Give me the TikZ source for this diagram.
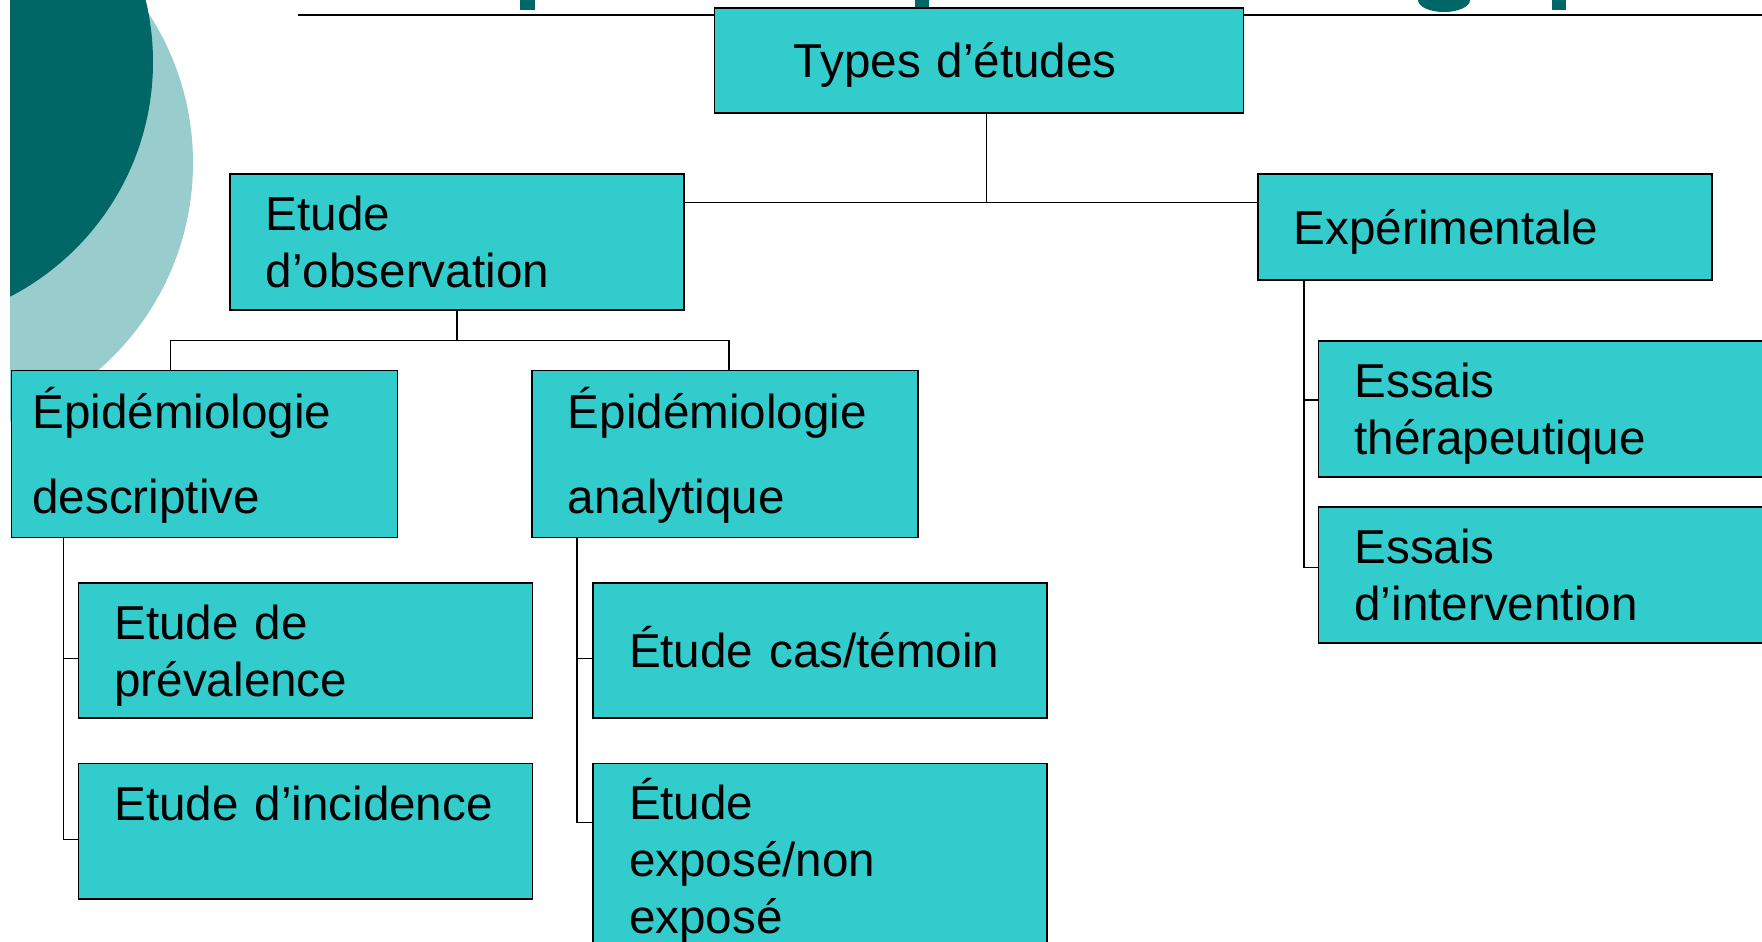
\documentclass[tikz,border=0pt]{standalone}
\usepackage{fontspec}
\setmainfont{Liberation Sans}
\usetikzlibrary{positioning}
\definecolor{boxfill}{RGB}{51,204,204}
\definecolor{darkteal}{RGB}{0,102,102}
\definecolor{paleteal}{RGB}{153,204,204}
\newcommand{\boxfont}{\fontsize{23.8}{28.5}\selectfont}
\newcommand{\tstrut}{\rule{0pt}{23pt}}
\newcommand{\bstrut}{\rule[-5.5pt]{0pt}{5.5pt}}

\begin{document}
\begin{tikzpicture}[
    x=0.5pt, y=-0.5pt,
    box/.style={draw, line width=0.9pt, fill=boxfill, align=left, font=\boxfont,
      inner ysep=0pt, execute at begin node=\tstrut, execute at end node=\bstrut},
    wide/.style={box, inner xsep=18pt, text width=191pt},
    epi/.style={box, minimum height=83.5pt},
    link/.style={draw, line width=0.75pt},
    stub/.style={fill=darkteal}]
  \useasboundingbox (0,0) rectangle (1762,942);
  \clip (0,0) rectangle (1762,942);
  % circles in the corner of the slide
  \begin{scope}
    \clip (10,0) rectangle (1762,942);
    \fill[paleteal] (-81,163) circle[radius=137pt];
    \fill[darkteal] (-111,62) circle[radius=132pt];
  \end{scope}
  % bottom of the title, cut off
  \fill[stub] (520,0) rectangle (535,10);
  \fill[stub] (915,0) rectangle (929,10);
  \fill[stub] (1418,0) arc[start angle=180, end angle=360, x radius=13pt, y radius=6pt] -- cycle;
  \fill[stub] (1552,0) rectangle (1566,10);
  \draw[line width=1.3pt] (298,15) -- (1762,15);

  \node[box, inner xsep=39.75pt, text width=185pt, minimum height=52.85pt, anchor=north west] (root) at (713.5,6.7) {Types d’études};
  \node[wide, minimum height=68pt, anchor=north west] (obs) at (229,172.7) {Etude\\d’observation};
  \node[wide, minimum height=53pt, anchor=north west] (exp) at (1257,172.7) {Expérimentale};
  \node[epi, inner xsep=10.5pt, text width=172pt, anchor=north west] (desc) at (10.5,369.5) {Épidémiologie\\[14pt]descriptive};
  \node[epi, inner xsep=18pt, text width=157pt, right=66.3pt of desc] (ana) {Épidémiologie\\[14pt]analytique};
  \node[wide, minimum height=67.75pt, anchor=north west] (prev) at (77.5,581.7) {Etude de\\prévalence};
  \node[wide, minimum height=67.75pt, below=21.8pt of prev] (inc) {Etude d’incidence\\\mbox{}};
  \node[wide, minimum height=67.75pt, right=29.4pt of prev] (cas) {Étude cas/témoin};
  \node[wide, minimum height=95pt, below=21.8pt of cas] (expo) {Étude\\exposé/non\\exposé};
  \node[wide, minimum height=68pt, anchor=north west] (ther) at (1317.6,340) {Essais\\thérapeutique};
  \node[wide, minimum height=68pt, below=14pt of ther] (int) {Essais\\d’intervention};

  % tree links
  \coordinate (j0) at ([yshift=-15pt]obs.north east);
  \draw[link] ([xshift=3.75pt]root.south) -- ([xshift=3.75pt]root.south |- j0);
  \draw[link] (j0) -- (j0 -| exp.west);
  \coordinate (j1) at ([yshift=-15pt]obs.south);
  \draw[link] (obs.south) -- (j1);
  \draw[link] ([xshift=-17pt]desc.north) |- (j1) -| ([xshift=2pt]ana.north);
  \coordinate (d0) at ([xshift=26.5pt]desc.south west);
  \draw[link] (d0) |- ([yshift=-4pt]prev.west);
  \draw[link] (d0) |- ([yshift=-4pt]inc.west);
  \coordinate (a0) at ([xshift=23pt]ana.south west);
  \draw[link] (a0) |- ([yshift=-4pt]cas.west);
  \draw[link] (a0) |- ([yshift=-30pt]expo.north west);
  \coordinate (e0) at ([xshift=23.5pt]exp.south west);
  \draw[link] (e0) |- ([yshift=4.5pt]ther.west);
  \draw[link] (e0) |- ([yshift=3.5pt]int.west);
\end{tikzpicture}
\end{document}
